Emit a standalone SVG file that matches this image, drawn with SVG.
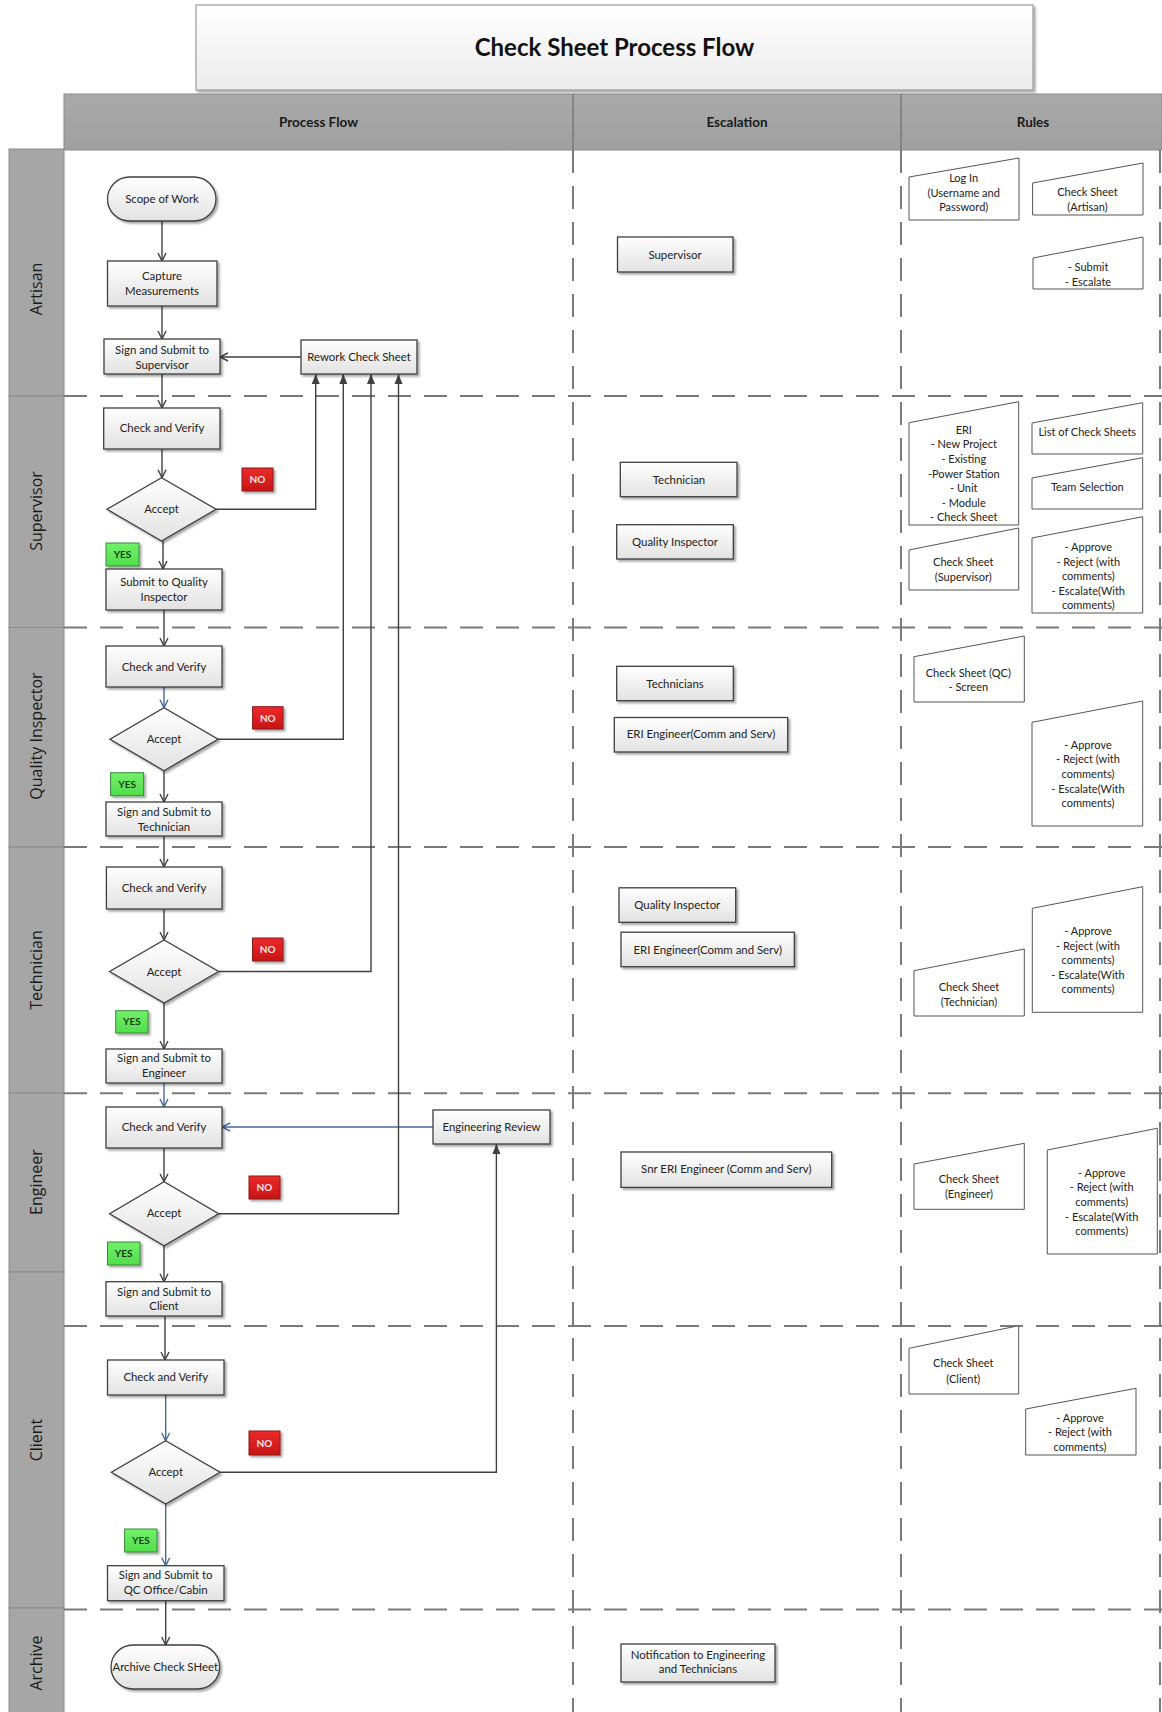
<svg xmlns="http://www.w3.org/2000/svg" width="1162" height="1712" viewBox="0 0 1162 1712">
<defs>
<linearGradient id="g" x1="0" y1="0" x2="0" y2="1"><stop offset="0" stop-color="#ffffff"/><stop offset="1" stop-color="#e2e2e2"/></linearGradient>
<linearGradient id="gt" x1="0" y1="0" x2="0" y2="1"><stop offset="0" stop-color="#ffffff"/><stop offset="1" stop-color="#ececec"/></linearGradient>
<linearGradient id="gh" x1="0" y1="0" x2="0" y2="1"><stop offset="0" stop-color="#a9a9a9"/><stop offset="1" stop-color="#a0a0a0"/></linearGradient>
<linearGradient id="gno" x1="0" y1="0" x2="0" y2="1"><stop offset="0" stop-color="#ec2a2a"/><stop offset="1" stop-color="#c81515"/></linearGradient>
<linearGradient id="gyes" x1="0" y1="0" x2="0" y2="1"><stop offset="0" stop-color="#72f06a"/><stop offset="1" stop-color="#52de4c"/></linearGradient>
<filter id="sh" x="-10%" y="-10%" width="130%" height="140%"><feDropShadow dx="2" dy="2" stdDeviation="1.2" flood-color="#000" flood-opacity="0.35"/></filter>
<marker id="ao" markerWidth="10" markerHeight="10" refX="9" refY="5" orient="auto" markerUnits="userSpaceOnUse"><path d="M1,1 L9,5 L1,9" fill="none" stroke="#404040" stroke-width="1.4"/></marker>
<marker id="aob" markerWidth="10" markerHeight="10" refX="9" refY="5" orient="auto" markerUnits="userSpaceOnUse"><path d="M1,1 L9,5 L1,9" fill="none" stroke="#46699a" stroke-width="1.4"/></marker>
<marker id="af" markerWidth="11" markerHeight="10" refX="10" refY="5" orient="auto" markerUnits="userSpaceOnUse"><path d="M0,1 L10,5 L0,9 z" fill="#404040"/></marker>
<style>
.t{font-family:Lato,"Liberation Sans",sans-serif;font-size:11.4px;fill:#222;text-anchor:middle}
.r{font-size:11px}
.hd{font-family:Lato,"Liberation Sans",sans-serif;font-size:13.5px;font-weight:bold;fill:#1a1a1a;text-anchor:middle}
.ttl{font-family:Lato,"Liberation Sans",sans-serif;font-size:24px;font-weight:bold;fill:#111;text-anchor:middle}
.lane{font-family:"Open Sans","DejaVu Sans",sans-serif;font-size:16px;fill:#1a1a1a;text-anchor:middle}
.box{fill:url(#g);stroke:#3f3f3f;stroke-width:1.3;filter:url(#sh)}
.man{fill:#ffffff;stroke:#555555;stroke-width:1}
.lanebg{fill:#a6a6a6;stroke:#8c8c8c;stroke-width:1}
.dash{stroke:#7a7a7a;stroke-width:2;stroke-dasharray:23 13;fill:none}
.c{stroke:#404040;stroke-width:1.4;fill:none}
.cb{stroke:#46699a;stroke-width:1.4;fill:none}
.no{fill:url(#gno);stroke:#8a1a1a;stroke-width:1;filter:url(#sh)}
.yes{fill:url(#gyes);stroke:#3a8a3a;stroke-width:1;filter:url(#sh)}
.not{font-family:Lato,"Liberation Sans",sans-serif;font-size:10px;font-weight:bold;fill:#fbe3e3;text-anchor:middle}
.yest{font-family:Lato,"Liberation Sans",sans-serif;font-size:10px;font-weight:bold;fill:#123d12;text-anchor:middle}
</style>
</defs>
<rect width="1162" height="1712" fill="#ffffff"/>

<g id="title">
<rect x="196" y="5" width="837" height="85" fill="url(#gt)" stroke="#a0a0a0" stroke-width="1.3" filter="url(#sh)"/>
<text class="ttl" x="614.5" y="56">Check Sheet Process Flow</text>
</g>

<g id="header">
<rect x="64" y="94" width="1098" height="56" fill="url(#gh)" stroke="#8a8a8a" stroke-width="1"/>
<line x1="573" y1="94" x2="573" y2="150" stroke="#707070" stroke-width="1.2"/>
<line x1="901" y1="94" x2="901" y2="150" stroke="#707070" stroke-width="1.2"/>
<text class="hd" x="318.5" y="127">Process Flow</text>
<text class="hd" x="737" y="127">Escalation</text>
<text class="hd" x="1033" y="127">Rules</text>
</g>

<g id="lanes">
<rect class="lanebg" x="9" y="149" width="55" height="247"/>
<rect class="lanebg" x="9" y="396" width="55" height="231.5"/>
<rect class="lanebg" x="9" y="627.5" width="55" height="219.5"/>
<rect class="lanebg" x="9" y="847" width="55" height="246"/>
<rect class="lanebg" x="9" y="1093" width="55" height="179"/>
<rect class="lanebg" x="9" y="1272" width="55" height="336"/>
<rect class="lanebg" x="9" y="1608" width="55" height="110"/>
<text class="lane" transform="translate(36.5,289) rotate(-90)" dy="0.35em">Artisan</text>
<text class="lane" transform="translate(36.5,511) rotate(-90)" dy="0.35em">Supervisor</text>
<text class="lane" transform="translate(36.5,736) rotate(-90)" dy="0.35em">Quality Inspector</text>
<text class="lane" transform="translate(36.5,970) rotate(-90)" dy="0.35em">Technician</text>
<text class="lane" transform="translate(36.5,1182) rotate(-90)" dy="0.35em">Engineer</text>
<text class="lane" transform="translate(36.5,1440) rotate(-90)" dy="0.35em">Client</text>
<text class="lane" transform="translate(36.5,1663) rotate(-90)" dy="0.35em">Archive</text>
</g>

<g id="grid">
<path class="dash" d="M64,396 H1162 M64,627.5 H1162 M64,847 H1162 M64,1093.3 H1162 M64,1326 H1162 M64,1609.5 H1162"/>
<path class="dash" d="M573,150 V1712 M901,150 V1712 M1160,150 V1712"/>
</g>

<g id="connectors">
<path class="c" d="M162,221 V261" marker-end="url(#ao)"/>
<path class="c" d="M162,306 V339" marker-end="url(#ao)"/>
<path class="c" d="M301,357 H220" marker-end="url(#ao)"/>
<path class="c" d="M162,374 V408" marker-end="url(#ao)"/>
<path class="c" d="M162,449 V477.7" marker-end="url(#ao)"/>
<path class="c" d="M216,509.3 H315.7 V374" marker-end="url(#af)"/>
<path class="c" d="M163,541 V569" marker-end="url(#ao)"/>
<path class="c" d="M164,610 V646" marker-end="url(#ao)"/>
<path class="cb" d="M164,687 V707.7" marker-end="url(#aob)"/>
<path class="c" d="M218,739.2 H343.3 V374" marker-end="url(#af)"/>
<path class="c" d="M164,770.7 V802" marker-end="url(#ao)"/>
<path class="c" d="M164,836 V867" marker-end="url(#ao)"/>
<path class="c" d="M164,909 V940" marker-end="url(#ao)"/>
<path class="c" d="M218.6,971.5 H371 V374" marker-end="url(#af)"/>
<path class="c" d="M164,1003 V1049" marker-end="url(#ao)"/>
<path class="cb" d="M164,1083 V1107" marker-end="url(#aob)"/>
<path class="cb" d="M433,1127 H222" marker-end="url(#aob)"/>
<path class="c" d="M164,1148 V1181.7" marker-end="url(#ao)"/>
<path class="c" d="M218.6,1213.7 H398.5 V374" marker-end="url(#af)"/>
<path class="c" d="M164,1245.7 V1281.7" marker-end="url(#ao)"/>
<path class="c" d="M165,1316 V1360" marker-end="url(#ao)"/>
<path class="cb" d="M165.7,1395 V1440.7" marker-end="url(#aob)"/>
<path class="c" d="M220,1472.3 H496.4 V1144" marker-end="url(#af)"/>
<path class="cb" d="M165.7,1504 V1565.7" marker-end="url(#aob)"/>
<path class="c" d="M165.7,1600.7 V1645" marker-end="url(#ao)"/>
</g>

<!-- Artisan -->
<g id="scope"><rect class="box" x="107.5" y="177" width="108.5" height="44" rx="22"/><text class="t" x="162" y="203">Scope of Work</text></g>
<g id="capture"><rect class="box" x="107.5" y="261" width="109.5" height="45"/><text class="t" x="162" y="280">Capture</text><text class="t" x="162" y="294.7">Measurements</text></g>
<g id="signSup"><rect class="box" x="104" y="339" width="116" height="35"/><text class="t" x="162" y="354">Sign and Submit to</text><text class="t" x="162" y="368.5">Supervisor</text></g>
<g id="rework"><rect class="box" x="301" y="340" width="116" height="34"/><text class="t" x="359" y="361">Rework Check Sheet</text></g>

<!-- Supervisor -->
<g id="supCheck"><rect class="box" x="103.7" y="408" width="116.3" height="41"/><text class="t" x="162" y="432">Check and Verify</text></g>
<g id="supAccept"><polygon class="box" points="161.5,477.7 216,509.3 161.5,541 107,509.3"/><text class="t" x="161.5" y="513">Accept</text></g>
<g id="supNo"><rect class="no" x="242" y="468" width="31" height="23"/><text class="not" x="257.5" y="483">NO</text></g>
<g id="supYes"><rect class="yes" x="106" y="543" width="33" height="23"/><text class="yest" x="122.5" y="558">YES</text></g>
<g id="submitQI"><rect class="box" x="106" y="569" width="116" height="41"/><text class="t" x="164" y="585.7">Submit to Quality</text><text class="t" x="164" y="600.7">Inspector</text></g>

<!-- Quality Inspector -->
<g id="qiCheck"><rect class="box" x="106" y="646" width="116" height="41"/><text class="t" x="164" y="670.7">Check and Verify</text></g>
<g id="qiAccept"><polygon class="box" points="164,707.7 218,739.2 164,770.7 110,739.2"/><text class="t" x="164" y="743">Accept</text></g>
<g id="qiNo"><rect class="no" x="252.6" y="706.7" width="30.4" height="22.3"/><text class="not" x="267.8" y="721.5">NO</text></g>
<g id="qiYes"><rect class="yes" x="110.6" y="772.7" width="33" height="23"/><text class="yest" x="127.1" y="787.7">YES</text></g>
<g id="signTech"><rect class="box" x="106" y="802" width="116" height="34"/><text class="t" x="164" y="816.3">Sign and Submit to</text><text class="t" x="164" y="830.7">Technician</text></g>

<!-- Technician -->
<g id="techCheck"><rect class="box" x="106.4" y="867" width="115.6" height="42"/><text class="t" x="164" y="891.7">Check and Verify</text></g>
<g id="techAccept"><polygon class="box" points="164.1,940 218.6,971.5 164.1,1003 109.6,971.5"/><text class="t" x="164" y="975.5">Accept</text></g>
<g id="techNo"><rect class="no" x="252.5" y="938" width="30.5" height="23"/><text class="not" x="267.7" y="953">NO</text></g>
<g id="techYes"><rect class="yes" x="115.7" y="1010.7" width="32.3" height="22.3"/><text class="yest" x="131.8" y="1025.4">YES</text></g>
<g id="signEng"><rect class="box" x="106" y="1049" width="116" height="34"/><text class="t" x="164" y="1062.3">Sign and Submit to</text><text class="t" x="164" y="1076.7">Engineer</text></g>

<!-- Engineer -->
<g id="engCheck"><rect class="box" x="106" y="1107" width="116" height="41"/><text class="t" x="164" y="1131.3">Check and Verify</text></g>
<g id="engReview"><rect class="box" x="433" y="1110" width="117" height="34"/><text class="t" x="491.5" y="1131">Engineering Review</text></g>
<g id="engAccept"><polygon class="box" points="164.1,1181.7 218.6,1213.7 164.1,1245.7 109.6,1213.7"/><text class="t" x="164" y="1217.3">Accept</text></g>
<g id="engNo"><rect class="no" x="249" y="1176" width="31" height="23"/><text class="not" x="264.5" y="1191">NO</text></g>
<g id="engYes"><rect class="yes" x="107.5" y="1242" width="32.5" height="23"/><text class="yest" x="123.7" y="1257">YES</text></g>
<g id="signClient"><rect class="box" x="106" y="1281.7" width="116" height="34.3"/><text class="t" x="164" y="1295.7">Sign and Submit to</text><text class="t" x="164" y="1309.7">Client</text></g>

<!-- Client -->
<g id="clientCheck"><rect class="box" x="107.5" y="1360" width="116.5" height="35"/><text class="t" x="165.7" y="1381.3">Check and Verify</text></g>
<g id="clientAccept"><polygon class="box" points="165.7,1440.7 220,1472.3 165.7,1504 111.4,1472.3"/><text class="t" x="165.7" y="1476.3">Accept</text></g>
<g id="clientNo"><rect class="no" x="249" y="1431" width="31" height="24"/><text class="not" x="264.5" y="1446.5">NO</text></g>
<g id="clientYes"><rect class="yes" x="124.6" y="1529" width="32.4" height="23"/><text class="yest" x="140.8" y="1544">YES</text></g>
<g id="signQC"><rect class="box" x="107.5" y="1565.7" width="116.5" height="35"/><text class="t" x="165.7" y="1579.3">Sign and Submit to</text><text class="t" x="165.7" y="1593.7">QC Office/Cabin</text></g>

<!-- Archive -->
<g id="archive"><rect class="box" x="111" y="1645" width="108.6" height="44" rx="22"/><text class="t" x="165.3" y="1670.7">Archive Check SHeet</text></g>

<!-- Escalation -->
<g id="escSupervisor"><rect class="box" x="617.5" y="237" width="115.5" height="35"/><text class="t" x="675" y="258.5">Supervisor</text></g>
<g id="escTechnician"><rect class="box" x="620.3" y="462.3" width="116.7" height="34.4"/><text class="t" x="679" y="483.5">Technician</text></g>
<g id="escQI1"><rect class="box" x="616.7" y="524.7" width="116.6" height="34.3"/><text class="t" x="675" y="545.5">Quality Inspector</text></g>
<g id="escTechnicians"><rect class="box" x="616.7" y="666.3" width="116.6" height="34.4"/><text class="t" x="675" y="687.5">Technicians</text></g>
<g id="escERI1"><rect class="box" x="614.3" y="717.5" width="173.4" height="34.5"/><text class="t" x="701" y="738.4">ERI Engineer(Comm and Serv)</text></g>
<g id="escQI2"><rect class="box" x="619" y="887.8" width="116.7" height="34.5"/><text class="t" x="677.3" y="909">Quality Inspector</text></g>
<g id="escERI2"><rect class="box" x="621" y="932.2" width="173.3" height="34.5"/><text class="t" x="707.7" y="953.5">ERI Engineer(Comm and Serv)</text></g>
<g id="escSnrERI"><rect class="box" x="621" y="1152" width="210.7" height="35.4"/><text class="t" x="726.3" y="1173.4">Snr ERI Engineer (Comm and Serv)</text></g>
<g id="escNotify"><rect class="box" x="621" y="1644" width="154" height="38"/><text class="t" x="698" y="1658.7">Notification to Engineering</text><text class="t" x="698" y="1673.2">and Technicians</text></g>

<!-- Rules -->
<g id="ruleLogin"><polygon class="man" points="909,177 1019,158 1019,220 909,220"/><text class="t r" x="963.7" y="182.3">Log In</text><text class="t r" x="963.7" y="196.7">(Username and</text><text class="t r" x="963.7" y="211.3">Password)</text></g>
<g id="ruleCSArtisan"><polygon class="man" points="1032.6,183 1143,163 1143,215 1032.6,215"/><text class="t r" x="1087.5" y="196.3">Check Sheet</text><text class="t r" x="1087.5" y="211">(Artisan)</text></g>
<g id="ruleSubmit"><polygon class="man" points="1033,258 1143,237 1143,289 1033,289"/><text class="t r" x="1088" y="270.7">- Submit</text><text class="t r" x="1088" y="285.7">- Escalate</text></g>

<g id="ruleERI"><polygon class="man" points="909,422.7 1018.7,401.7 1018.7,525 909,525"/>
<text class="t r" x="963.8" y="434">ERI</text><text class="t r" x="963.8" y="448.3">- New Project</text><text class="t r" x="963.8" y="463.3">- Existing</text><text class="t r" x="963.8" y="477.7">-Power Station</text><text class="t r" x="963.8" y="492.3">- Unit</text><text class="t r" x="963.8" y="507">- Module</text><text class="t r" x="963.8" y="521.3">- Check Sheet</text></g>
<g id="ruleList"><polygon class="man" points="1032,423 1142.7,402.7 1142.7,454 1032,454"/><text class="t r" x="1087.3" y="436.3">List of Check Sheets</text></g>
<g id="ruleTeam"><polygon class="man" points="1032,478 1142.7,457.7 1142.7,509 1032,509"/><text class="t r" x="1087.3" y="491">Team Selection</text></g>
<g id="ruleCSSup"><polygon class="man" points="909,550 1018.7,528 1018.7,590 909,590"/><text class="t r" x="963.3" y="566.3">Check Sheet</text><text class="t r" x="963.3" y="580.7">(Supervisor)</text></g>
<g id="ruleApproveSup"><polygon class="man" points="1032,538 1142.7,516.7 1142.7,613 1032,613"/>
<text class="t r" x="1088.3" y="550.7">- Approve</text><text class="t r" x="1088.3" y="565.7">- Reject (with</text><text class="t r" x="1088.3" y="580">comments)</text><text class="t r" x="1088.3" y="594.7">- Escalate(With</text><text class="t r" x="1088.3" y="609.3">comments)</text></g>

<g id="ruleCSQC"><polygon class="man" points="914,656.7 1024.3,636 1024.3,702 914,702"/><text class="t r" x="968.3" y="676.7">Check Sheet (QC)</text><text class="t r" x="968.3" y="690.7">- Screen</text></g>
<g id="ruleApproveQI"><polygon class="man" points="1032,722.3 1142.7,701 1142.7,826 1032,826"/>
<text class="t r" x="1088" y="748.7">- Approve</text><text class="t r" x="1088" y="763.3">- Reject (with</text><text class="t r" x="1088" y="778">comments)</text><text class="t r" x="1088" y="792.7">- Escalate(With</text><text class="t r" x="1088" y="807.3">comments)</text></g>

<g id="ruleApproveTech"><polygon class="man" points="1032.3,908.3 1142.7,886.7 1142.7,1012.3 1032.3,1012.3"/>
<text class="t r" x="1088" y="935">- Approve</text><text class="t r" x="1088" y="949.7">- Reject (with</text><text class="t r" x="1088" y="964">comments)</text><text class="t r" x="1088" y="979">- Escalate(With</text><text class="t r" x="1088" y="993.3">comments)</text></g>
<g id="ruleCSTech"><polygon class="man" points="914,970.7 1024.3,949 1024.3,1016 914,1016"/><text class="t r" x="969" y="990.7">Check Sheet</text><text class="t r" x="969" y="1005.7">(Technician)</text></g>

<g id="ruleCSEng"><polygon class="man" points="914,1164 1024.3,1143.3 1024.3,1209.3 914,1209.3"/><text class="t r" x="969" y="1183.3">Check Sheet</text><text class="t r" x="969" y="1198">(Engineer)</text></g>
<g id="ruleApproveEng"><polygon class="man" points="1047.3,1150 1157.3,1128.3 1157.3,1254 1047.3,1254"/>
<text class="t r" x="1101.7" y="1176.7">- Approve</text><text class="t r" x="1101.7" y="1191.3">- Reject (with</text><text class="t r" x="1101.7" y="1206">comments)</text><text class="t r" x="1101.7" y="1220.7">- Escalate(With</text><text class="t r" x="1101.7" y="1235">comments)</text></g>

<g id="ruleCSClient"><polygon class="man" points="909,1348.3 1018.7,1325.7 1018.7,1394 909,1394"/><text class="t r" x="963.3" y="1367.3">Check Sheet</text><text class="t r" x="963.3" y="1383">(Client)</text></g>
<g id="ruleApproveClient"><polygon class="man" points="1025.7,1409 1136,1388.3 1136,1455 1025.7,1455"/>
<text class="t r" x="1080" y="1421.7">- Approve</text><text class="t r" x="1080" y="1436">- Reject (with</text><text class="t r" x="1080" y="1450.7">comments)</text></g>
</svg>
